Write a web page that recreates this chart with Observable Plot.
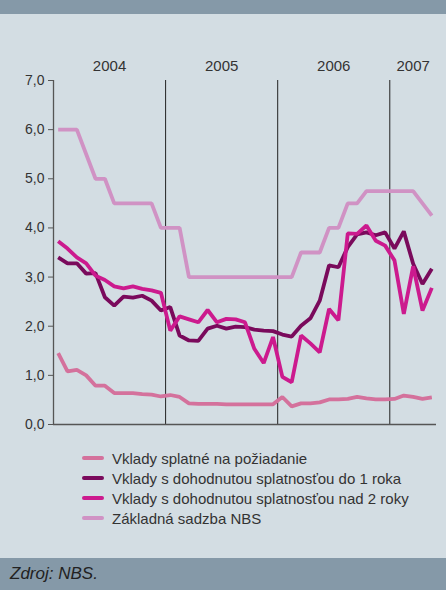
<!DOCTYPE html>
<html>
<head>
<meta charset="utf-8">
<script src="https://cdn.jsdelivr.net/npm/d3@7"></script>
<script src="https://cdn.jsdelivr.net/npm/@observablehq/plot@0.6"></script>
<style>
  html, body { margin: 0; padding: 0; }
  body { width: 446px; height: 590px; overflow: hidden; font-family: "Liberation Sans", Arial, sans-serif; }
  #wrap { position: relative; width: 446px; height: 590px; background: #d3dde3; overflow: hidden; }
  #topband { position: absolute; left: 0; top: 0; width: 446px; height: 14px; background: #8599a8; }
  #chart { position: absolute; left: 0; top: 14px; }
  #legend { position: absolute; left: 82px; top: 448px; }
  .row { height: 20px; display: flex; align-items: center; font-size: 15px; color: #333; }
  .sw { width: 22px; height: 4px; border-radius: 2px; margin-right: 8px; }
  #bottomband { position: absolute; left: 0; top: 558px; width: 446px; height: 32px; background: #8599a8; }
  #bottomband span { position: absolute; left: 10px; top: 6px; font-style: italic; font-size: 17px; color: #222; }
</style>
</head>
<body>
<div id="wrap">
  <div id="topband"></div>
  <div id="chart"></div>
  <div id="legend"></div>
  <div id="bottomband"><span>Zdroj: NBS.</span></div>
</div>
<script>
// Monthly data, January 2004 – May 2007
const years = [2004, 2005, 2006, 2007];
const monthsPerYear = [12, 12, 12, 5];
const yTicks = [0, 1, 2, 3, 4, 5, 6, 7];

const seriesNames = [
  "Vklady splatné na požiadanie",
  "Vklady s dohodnutou splatnosťou do 1 roka",
  "Vklady s dohodnutou splatnosťou nad 2 roky",
  "Základná sadzba NBS"
];
const seriesColors = ["#d4719c", "#7a0a5c", "#cc1a8e", "#d092c4"];

const pozadanie = [1.45,1.08,1.11,1.00,0.79,0.79,0.64,0.64,0.64,0.62,0.61,0.57,
                   0.60,0.56,0.43,0.42,0.42,0.42,0.41,0.41,0.41,0.41,0.41,0.41,
                   0.56,0.37,0.43,0.43,0.45,0.51,0.51,0.52,0.56,0.53,0.51,0.51,
                   0.52,0.59,0.56,0.52,0.55];
const do1roka = [3.40,3.28,3.28,3.07,3.08,2.59,2.42,2.60,2.58,2.62,2.52,2.32,
                 2.39,1.81,1.71,1.70,1.95,2.01,1.95,1.99,1.98,1.93,1.91,1.90,
                 1.83,1.79,2.01,2.16,2.52,3.24,3.20,3.61,3.87,3.91,3.85,3.91,
                 3.58,3.93,3.27,2.86,3.17];
const nad2roky = [3.73,3.58,3.40,3.28,3.03,2.94,2.81,2.77,2.81,2.76,2.73,2.68,
                  1.91,2.20,2.14,2.08,2.33,2.08,2.15,2.14,2.08,1.54,1.25,1.78,
                  0.97,0.86,1.81,1.65,1.47,2.35,2.12,3.89,3.88,4.05,3.74,3.64,
                  3.34,2.25,3.22,2.32,2.78];
const sadzba = [6.0,6.0,6.0,5.5,5.0,5.0,4.5,4.5,4.5,4.5,4.5,4.0,
                4.0,4.0,3.0,3.0,3.0,3.0,3.0,3.0,3.0,3.0,3.0,3.0,
                3.0,3.0,3.5,3.5,3.5,4.0,4.0,4.5,4.5,4.75,4.75,4.75,
                4.75,4.75,4.75,4.5,4.25];

const allSeries = [pozadanie, do1roka, nad2roky, sadzba];
const nMonths = d3.sum(monthsPerYear);

const data = [];
allSeries.forEach((vals, s) => vals.forEach((v, i) => data.push({ s: seriesNames[s], i, v })));

// year boundaries and label positions (in month units)
const starts = d3.cumsum([0, ...monthsPerYear]).slice(0, years.length);
const yearInfo = years.map((y, k) => ({ year: String(y), start: starts[k], mid: starts[k] + monthsPerYear[k] / 2 }));
const boundaries = yearInfo.slice(1).map(d => d.start);

const fmt = d => d.toFixed(1).replace(".", ",");

const chart = Plot.plot({
  width: 446,
  height: 430,
  marginLeft: 53,
  marginRight: 10,
  marginTop: 66,
  marginBottom: 20,
  style: { background: "transparent", fontFamily: "'Liberation Sans', Arial, sans-serif", fontSize: "14px", color: "#333", overflow: "visible" },
  x: { type: "linear", domain: [0, nMonths], axis: null },
  y: { domain: [0, 7], axis: null },
  color: { domain: seriesNames, range: seriesColors },
  marks: [
    Plot.axisY({ ticks: yTicks, tickFormat: fmt, tickSize: 5, tickPadding: 4, stroke: "#555", fontSize: 14, fill: "#333", label: null }),
    Plot.ruleX([0], { y1: 0, y2: 7, stroke: "#555", strokeWidth: 1.3 }),
    Plot.ruleX(boundaries, { y1: 0, y2: 7, stroke: "#222", strokeWidth: 1 }),
    Plot.ruleY([0], { stroke: "#555", strokeWidth: 1.3 }),
    Plot.line(data, { x: d => d.i + 0.5, y: "v", z: "s", stroke: "s", strokeWidth: 3.8, strokeLinejoin: "miter", strokeLinecap: "butt" }),
    Plot.text(yearInfo, { x: "mid", y: () => 7, text: "year", dy: -14, fontSize: 15, fill: "#333" })
  ]
});
document.getElementById("chart").appendChild(chart);

const legend = document.getElementById("legend");
seriesNames.forEach((n, k) => {
  const row = document.createElement("div");
  row.className = "row";
  const sw = document.createElement("div");
  sw.className = "sw";
  sw.style.background = seriesColors[k];
  const t = document.createElement("span");
  t.textContent = n;
  row.appendChild(sw);
  row.appendChild(t);
  legend.appendChild(row);
});
</script>
</body>
</html>
